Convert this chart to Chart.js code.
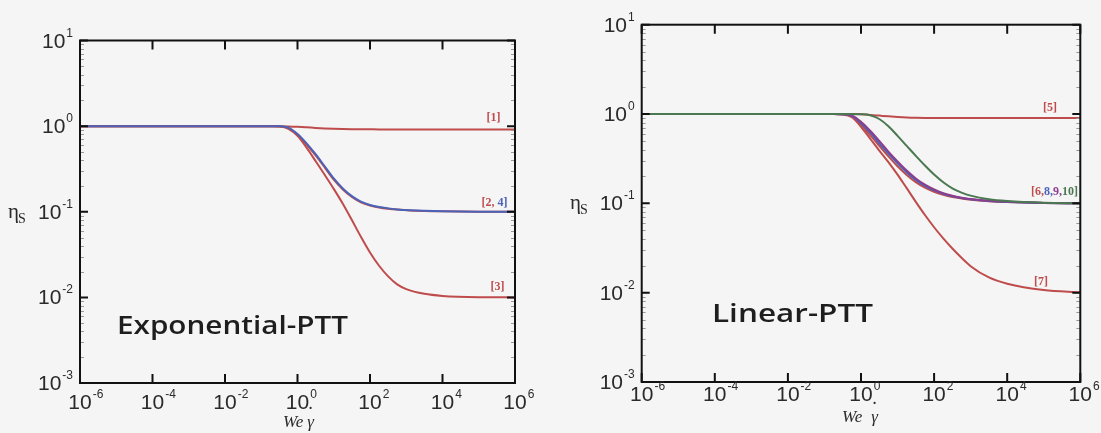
<!DOCTYPE html>
<html>
<head>
<meta charset="utf-8">
<script src="https://cdn.jsdelivr.net/npm/chart.js@4.4.1/dist/chart.umd.min.js"></script>
<style>
  body { margin: 0; background: #f5f5f5; }
  #wrap { position: relative; width: 1101px; height: 433px; }
  canvas { position: absolute; top: 0; }
</style>
</head>
<body>
<div id="wrap">
  <canvas id="chExp" width="550" height="433" style="left:0"></canvas>
  <canvas id="chLin" width="551" height="433" style="left:550px"></canvas>
</div>
<script>
// ---- data (We*gamma_dot -> eta_s) ----
const xs = [1e-6, 1e-3, 0.1, 0.178, 0.316, 0.562, 1, 1.78, 3.16, 5.62, 10, 17.8, 31.6, 56.2,
            100, 178, 316, 562, 1000, 3162, 1e4, 1e5, 1e6];

// Exponential-PTT
const exp1 = [1, 1, 1, 1, 0.998, 0.993, 0.982, 0.968, 0.953, 0.94, 0.93, 0.924, 0.92, 0.918, 0.917, 0.916, 0.916, 0.916, 0.916, 0.916, 0.916, 0.916, 0.916];
const exp2 = [1, 1, 1, 1, 0.995, 0.955, 0.79, 0.61, 0.455, 0.33, 0.237, 0.182, 0.149, 0.129, 0.1185, 0.1123, 0.1085, 0.106, 0.1042, 0.1022, 0.1012, 0.1003, 0.1];
const exp3 = [1, 1, 1, 0.999, 0.99, 0.93, 0.77, 0.56, 0.39, 0.27, 0.185, 0.124, 0.08, 0.051, 0.0335, 0.0234, 0.0176, 0.0142, 0.0125, 0.011, 0.0104, 0.01005, 0.01];
const exp4 = [1, 1, 1, 1, 0.996, 0.96, 0.81, 0.63, 0.47, 0.34, 0.245, 0.187, 0.152, 0.131, 0.12, 0.1135, 0.1095, 0.1065, 0.1045, 0.1025, 0.1013, 0.1003, 0.1];

// Linear-PTT
const lin5  = [1, 1, 1, 1, 1, 0.998, 0.992, 0.978, 0.96, 0.942, 0.927, 0.915, 0.908, 0.904, 0.902, 0.901, 0.9, 0.9, 0.9, 0.9, 0.9, 0.9, 0.9];
const lin6  = [1, 1, 1, 1, 0.993, 0.94, 0.76, 0.58, 0.44, 0.335, 0.26, 0.208, 0.173, 0.15, 0.135, 0.125, 0.118, 0.1135, 0.11, 0.1058, 0.1035, 0.101, 0.1];
const lin7  = [1, 1, 1, 1, 0.99, 0.92, 0.72, 0.53, 0.39, 0.29, 0.21, 0.148, 0.104, 0.074, 0.054, 0.0405, 0.0312, 0.0246, 0.0198, 0.0148, 0.0126, 0.0107, 0.0101];
const lin8  = [1, 1, 1, 1, 0.995, 0.955, 0.79, 0.62, 0.47, 0.36, 0.28, 0.222, 0.183, 0.157, 0.14, 0.128, 0.12, 0.1148, 0.111, 0.1062, 0.1037, 0.1011, 0.1];
const lin9  = [1, 1, 1, 1, 0.997, 0.965, 0.82, 0.65, 0.5, 0.38, 0.295, 0.233, 0.19, 0.162, 0.143, 0.13, 0.1215, 0.1158, 0.1118, 0.1066, 0.1039, 0.1012, 0.1];
const lin10 = [1, 1, 1, 1, 1, 1, 0.995, 0.97, 0.88, 0.73, 0.57, 0.44, 0.34, 0.265, 0.21, 0.172, 0.147, 0.132, 0.122, 0.111, 0.106, 0.1015, 0.1];

// tick exponents
const xTickExps = [-6, -4, -2, 0, 2, 4, 6];
const yTickExps = [-3, -2, -1, 0, 1];

const RED = '#bf4c4c', BLUE = '#4a63b8', PURPLE = '#8c3d8e', GREEN = '#4a7850';

const pts = ys => xs.map((x, i) => ({ x, y: ys[i] }));
const ds = (ys, color) => ({ data: pts(ys), borderColor: color, borderWidth: 2, pointRadius: 0, cubicInterpolationMode: 'monotone', fill: false });

// "10" + superscript exponent
function drawPow(ctx, x, y, e, align) {
  ctx.save();
  ctx.fillStyle = '#2a2a2a';
  ctx.textBaseline = 'alphabetic';
  ctx.font = '21px "Liberation Sans", Arial, sans-serif';
  const wb = ctx.measureText('10').width;
  ctx.font = '12px "Liberation Sans", Arial, sans-serif';
  const we = ctx.measureText(String(e)).width;
  const x0 = align === 'right' ? x - wb - we - 1 : x - wb / 2;
  ctx.font = '21px "Liberation Sans", Arial, sans-serif';
  ctx.textAlign = 'left';
  ctx.fillText('10', x0, y);
  ctx.font = '12px "Liberation Sans", Arial, sans-serif';
  ctx.fillText(String(e), x0 + wb + 1, y - 11);
  ctx.restore();
}

// 坐标框 + 刻度 + 文字
const framePlugin = {
  id: 'frame',
  afterDatasetsDraw(chart, args, o) {
    const { ctx, chartArea: a, scales: { x, y } } = chart;
    ctx.save();
    // minor y ticks
    ctx.strokeStyle = '#9a9a9a';
    ctx.lineWidth = 1;
    for (let e = -3; e < 1; e++) {
      for (let k = 2; k < 10; k++) {
        const py = Math.round(y.getPixelForValue(k * 10 ** e)) + 0.5;
        ctx.beginPath();
        ctx.moveTo(a.left, py); ctx.lineTo(a.left + 4, py);
        ctx.moveTo(a.right, py); ctx.lineTo(a.right - 4, py);
        ctx.stroke();
      }
    }
    // major ticks
    ctx.strokeStyle = '#111';
    ctx.lineWidth = 2;
    xTickExps.forEach(e => {
      const px = x.getPixelForValue(10 ** e);
      ctx.beginPath();
      ctx.moveTo(px, a.bottom); ctx.lineTo(px, a.bottom - 9);
      ctx.moveTo(px, a.top); ctx.lineTo(px, a.top + 9);
      ctx.stroke();
    });
    yTickExps.forEach(e => {
      const py = y.getPixelForValue(10 ** e);
      ctx.beginPath();
      ctx.moveTo(a.left, py); ctx.lineTo(a.left + 8, py);
      ctx.moveTo(a.right, py); ctx.lineTo(a.right - 8, py);
      ctx.stroke();
    });
    // frame
    ctx.strokeRect(a.left, a.top, a.right - a.left, a.bottom - a.top);

    // tick labels
    xTickExps.forEach(e => drawPow(ctx, x.getPixelForValue(10 ** e), a.bottom + o.xLabOff, e, 'center'));
    yTickExps.forEach(e => drawPow(ctx, a.left - 7, y.getPixelForValue(10 ** e) + 7, e, 'right'));

    // eta_s
    const ey = y.getPixelForValue(0.1);
    ctx.fillStyle = '#2a2a2a';
    ctx.textAlign = 'left';
    ctx.font = '21px "Liberation Serif", "DejaVu Serif", serif';
    ctx.fillText('η', o.etaX, ey + 6);
    ctx.font = '14px "Liberation Serif", "DejaVu Serif", serif';
    ctx.fillText('S', o.etaX + 10, ey + 11);

    // x title: We γ̇
    const cx = x.getPixelForValue(1) + o.titleDx;
    const ty = a.bottom + o.titleOff;
    ctx.font = 'italic 17px "Liberation Serif", "DejaVu Serif", serif';
    const wWe = ctx.measureText('We').width;
    const gap = o.titleGap;
    const wG = ctx.measureText('γ').width;
    const x0 = cx - (wWe + gap + wG) / 2;
    ctx.fillText('We', x0, ty);
    ctx.fillText('γ', x0 + wWe + gap, ty);
    ctx.font = 'bold 14px "Liberation Serif", serif';
    ctx.fillText('˙', x0 + wWe + gap + 1, ty - 10);

    // panel name
    ctx.fillStyle = '#1e1e1e';
    ctx.font = '600 26px "Open Sans", "DejaVu Sans", sans-serif';
    const w = ctx.measureText(o.name).width;
    ctx.save();
    ctx.translate(o.nameX, o.nameY);
    ctx.scale(o.nameW / w, 1);
    ctx.fillText(o.name, 0, 0);
    ctx.restore();

    // curve tags
    ctx.font = 'bold 12px "Liberation Serif", "DejaVu Serif", serif';
    ctx.textBaseline = 'middle';
    o.tags.forEach(t => {
      const total = t.parts.reduce((s, p) => s + ctx.measureText(p[0]).width, 0);
      let px = x.getPixelForValue(t.x) - total;
      const py = y.getPixelForValue(t.y) + t.dy;
      t.parts.forEach(p => {
        ctx.fillStyle = p[1];
        ctx.fillText(p[0], px, py);
        px += ctx.measureText(p[0]).width;
      });
    });
    ctx.restore();
  }
};

function makeChart(id, datasets, pad, frameOpts) {
  return new Chart(document.getElementById(id), {
    type: 'line',
    data: { datasets },
    options: {
      responsive: false, animation: false,
      layout: { padding: pad },
      plugins: { legend: { display: false }, tooltip: { enabled: false }, frame: frameOpts },
      scales: {
        x: { type: 'logarithmic', min: 1e-6, max: 1e6, display: false },
        y: { type: 'logarithmic', min: 1e-3, max: 10, display: false }
      }
    },
    plugins: [framePlugin]
  });
}

makeChart('chExp',
  [ds(exp4, BLUE), ds(exp2, RED), ds(exp3, RED), ds(exp1, RED)],
  { left: 80, right: 35, top: 40.5, bottom: 50 },
  {
    xLabOff: 26, etaX: 8, titleOff: 44, titleDx: 1, titleGap: 4,
    name: 'Exponential-PTT', nameX: 117, nameY: 334, nameW: 231,
    tags: [
      { x: 4e5, y: 0.916, dy: -11, parts: [['[1]', RED]] },
      { x: 6.2e5, y: 0.1, dy: -9, parts: [['[2, ', RED], ['4]', BLUE]] },
      { x: 5.1e5, y: 0.01, dy: -10, parts: [['[3]', RED]] }
    ]
  });

makeChart('chLin',
  [ds(lin10, GREEN), ds(lin9, PURPLE), ds(lin8, BLUE), ds(lin6, RED), ds(lin7, RED), ds(lin5, RED)],
  { left: 91.7, right: 20.7, top: 24.7, bottom: 51 },
  {
    xLabOff: 19, etaX: 20, titleOff: 40, titleDx: -1, titleGap: 9,
    name: 'Linear-PTT', nameX: 162, nameY: 322, nameW: 161,
    tags: [
      { x: 2.3e5, y: 0.9, dy: -10, parts: [['[5]', RED]] },
      { x: 8.7e5, y: 0.1, dy: -11, parts: [['[6,', RED], ['8,', BLUE], ['9,', PURPLE], ['10]', GREEN]] },
      { x: 1.3e5, y: 0.01, dy: -11, parts: [['[7]', RED]] }
    ]
  });
</script>
</body>
</html>
